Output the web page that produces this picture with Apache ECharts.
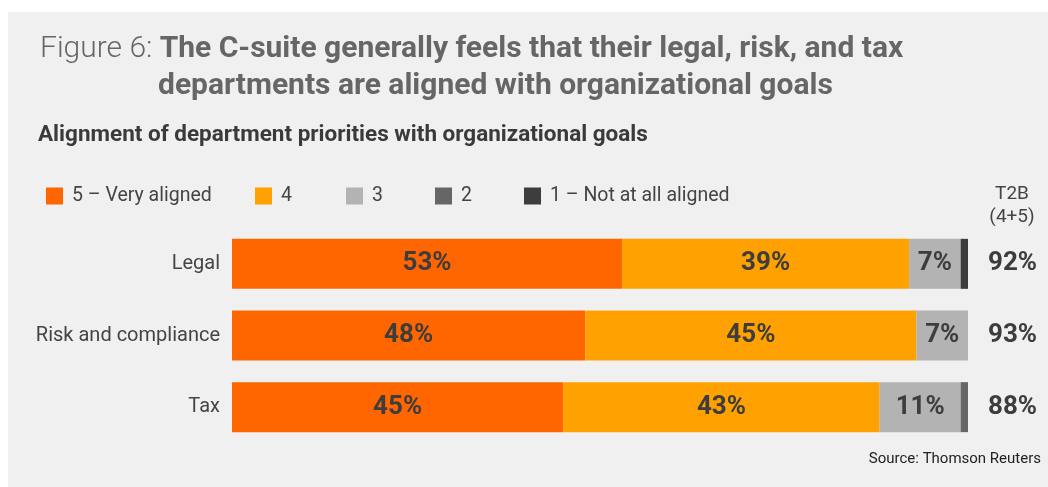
<!DOCTYPE html>
<html>
<head>
<meta charset="utf-8">
<script src="https://cdn.jsdelivr.net/npm/echarts@6/dist/echarts.min.js"></script>
<style>
  html, body { margin: 0; padding: 0; background: #ffffff; }
  #chart { width: 1048px; height: 487px; }
</style>
</head>
<body>
<div id="chart"></div>
<script>
// Departments, top to bottom
const departments = ['Legal', 'Risk and compliance', 'Tax'];

// Share of respondents (%) for each alignment rating
const rating5 = [53, 48, 45];
const rating4 = [39, 45, 43];
const rating3 = [7, 7, 11];
const rating2 = [0, 0, 1];
const rating1 = [1, 0, 0];

const seriesNames = ['5 – Very aligned', '4', '3', '2', '1 – Not at all aligned'];
const seriesColors = ['#ff6600', '#ffa100', '#b3b3b3', '#666666', '#3d3d3d'];

// Top-two-box (ratings 4 + 5)
const t2b = rating5.map((v, i) => v + rating4[i]);

const FONT = 'Roboto';
const DARK = '#3d3d3d';

const chart = echarts.init(document.getElementById('chart'), null, { renderer: 'canvas' });

const seriesData = [rating5, rating4, rating3, rating2, rating1];

const series = seriesData.map((data, i) => ({
  name: seriesNames[i],
  type: 'bar',
  stack: 'total',
  barWidth: 50,
  data: data,
  itemStyle: { color: seriesColors[i] },
  label: {
    show: true,
    position: 'inside',
    fontFamily: FONT,
    fontWeight: 'bold',
    fontSize: 26,
    color: DARK,
    formatter: p => (p.value >= 5 ? p.value + '%' : '')
  },
  emphasis: { disabled: true }
}));

// One legend per item so each swatch sits at its own position
const legendLefts = [41, 250, 341, 430, 519];
const legends = seriesNames.map((name, i) => ({
  data: [name],
  left: legendLefts[i],
  top: 181,
  icon: 'rect',
  itemWidth: 17,
  itemHeight: 17,
  selectedMode: false,
  textStyle: {
    fontFamily: FONT,
    fontSize: 19.5,
    color: '#444444',
    padding: [0, 0, 0, 4]
  }
}));

const option = {
  animation: false,
  backgroundColor: '#ffffff',
  textStyle: { fontFamily: FONT },
  legend: legends,
  grid: { left: 232, right: 80, top: 228, height: 215, containLabel: false },
  xAxis: { type: 'value', min: 0, max: 100, show: false },
  yAxis: [
    {
      type: 'category',
      data: departments,
      inverse: true,
      axisLine: { show: false },
      axisTick: { show: false },
      axisLabel: { margin: 12, fontFamily: FONT, fontSize: 20, color: '#444444' }
    },
    {
      type: 'category',
      position: 'right',
      data: t2b.map(v => v + '%'),
      inverse: true,
      axisLine: { show: false },
      axisTick: { show: false },
      axisLabel: { margin: 20, fontFamily: FONT, fontWeight: 'bold', fontSize: 26, color: DARK }
    }
  ],
  series: series,
  graphic: [
    {
      type: 'rect',
      z: -10,
      silent: true,
      shape: { x: 8, y: 12, width: 1040, height: 475 },
      style: { fill: '#f0f0f0' }
    },
    {
      type: 'text',
      x: 40,
      y: 49,
      silent: true,
      style: {
        text: '{l|Figure 6: }{b|The C-suite generally feels that their legal, risk, and tax}',
        verticalAlign: 'middle',
        rich: {
          l: { fontFamily: FONT, fontWeight: 300, fontSize: 30, fill: '#666666' },
          b: { fontFamily: FONT, fontWeight: 'bold', fontSize: 30, fill: '#666666' }
        }
      }
    },
    {
      type: 'text',
      x: 158,
      y: 86,
      silent: true,
      style: {
        text: 'departments are aligned with organizational goals',
        verticalAlign: 'middle',
        fontFamily: FONT, fontWeight: 'bold', fontSize: 30, fill: '#666666'
      }
    },
    {
      type: 'text',
      x: 38,
      y: 135,
      silent: true,
      style: {
        text: 'Alignment of department priorities with organizational goals',
        verticalAlign: 'middle',
        fontFamily: FONT, fontWeight: 'bold', fontSize: 22.5, fill: '#3a3a3a'
      }
    },
    {
      type: 'text',
      x: 1012,
      y: 206,
      silent: true,
      style: {
        text: 'T2B\n(4+5)',
        align: 'center',
        verticalAlign: 'middle',
        lineHeight: 23,
        fontFamily: FONT, fontSize: 19, fill: '#444444'
      }
    },
    {
      type: 'text',
      x: 1041,
      y: 459,
      silent: true,
      style: {
        text: 'Source: Thomson Reuters',
        align: 'right',
        verticalAlign: 'middle',
        fontFamily: FONT, fontSize: 15, fill: '#222222'
      }
    }
  ]
};

chart.setOption(option);
</script>
</body>
</html>
